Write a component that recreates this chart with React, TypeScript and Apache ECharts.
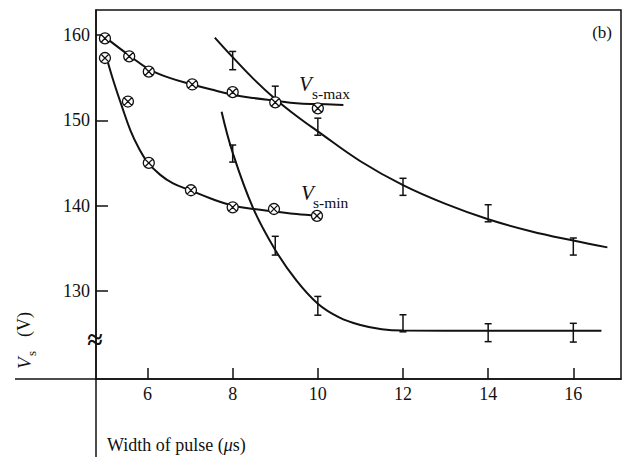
import React, { useEffect, useRef } from "react";
import * as echarts from "echarts";

// ---- data ----
const xTicks = [6, 8, 10, 12, 14, 16];
const yTicks = [130, 140, 150, 160];

const vsMaxX = [5, 5.57, 6.03, 7.05, 8, 9, 10];
const vsMaxY = [159.6, 157.5, 155.7, 154.2, 153.3, 152.1, 151.4];
const vsMinX = [5, 5.54, 6.03, 7.02, 8, 8.97, 9.98];
const vsMinY = [157.3, 152.2, 145.0, 141.8, 139.8, 139.6, 138.8];

const vsMaxFitX = [5.04, 5.57, 6.03, 6.5, 7.05, 7.5, 8, 8.5, 9, 9.5, 10, 10.6];
const vsMaxFitY = [159.6, 157.6, 156.0, 155.0, 154.2, 153.6, 153.0, 152.6, 152.3, 152.0, 151.9, 151.8];
const vsMinFitX = [5.04, 5.2, 5.4, 5.6, 5.8, 6.0, 6.3, 6.6, 7, 7.5, 8, 8.5, 9, 9.5, 9.98];
const vsMinFitY = [157.3, 154.6, 151.6, 148.8, 146.7, 145.1, 143.6, 142.6, 141.8, 140.8, 140.0, 139.6, 139.3, 139.0, 138.8];

const upperFitX = [7.58, 8, 8.5, 9, 9.5, 10, 11, 12, 13, 14, 15, 16, 16.8];
const upperFitY = [159.7, 157.4, 154.8, 152.5, 150.5, 148.7, 145.2, 142.4, 140.2, 138.4, 137.0, 135.9, 135.1];
const lowerFitX = [7.74, 8, 8.48, 9, 9.5, 10, 10.5, 11, 11.5, 12, 14, 16.66];
const lowerFitY = [151.0, 146.2, 139.7, 134.8, 131.2, 128.5, 126.9, 126.0, 125.5, 125.35, 125.33, 125.33];

const upperBarX = [8, 9, 10, 12, 14, 16];
const upperBarY = [157.0, 152.9, 149.25, 142.2, 139.1, 135.2];
const upperBarErr = [1.07, 1.1, 1.0, 1.0, 1.0, 1.0];
const lowerBarX = [8, 9, 10, 12, 14, 16];
const lowerBarY = [146.1, 135.3, 128.25, 126.2, 125.1, 125.1];
const lowerBarErr = [1.0, 1.1, 1.1, 1.0, 1.05, 1.1];

const INK = "#111";
const SERIF = "'Liberation Serif', 'DejaVu Serif', serif";
const OTIMES = "path://M10,0A10,10,0,1,1,10,20A10,10,0,1,1,10,0ZM3,3L17,17M17,3L3,17";

const zip = (a: number[], b: number[]) => a.map((v, i) => [v, b[i]]);
const zip3 = (a: number[], b: number[], c: number[]) => a.map((v, i) => [v, b[i], c[i]]);

function errRender(params: any, api: any) {
  const x = api.value(0);
  const c = api.value(1);
  const e = api.value(2);
  const t = api.coord([x, c + e]);
  const b = api.coord([x, c - e]);
  const hw = 3.5;
  const st = { stroke: INK, lineWidth: 1.5 };
  return {
    type: "group",
    children: [
      { type: "line", shape: { x1: t[0], y1: t[1], x2: b[0], y2: b[1] }, style: st },
      { type: "line", shape: { x1: t[0] - hw, y1: t[1], x2: t[0] + hw, y2: t[1] }, style: st },
      { type: "line", shape: { x1: b[0] - hw, y1: b[1], x2: b[0] + hw, y2: b[1] }, style: st },
    ],
  };
}

export default function App() {
  const ref = useRef<HTMLDivElement>(null);
  useEffect(() => {
    if (!ref.current) return;
    const chart = echarts.init(ref.current, undefined, { renderer: "svg" });
    const fitLine = (name: string, xs: number[], ys: number[]) => ({
      name,
      type: "line",
      data: zip(xs, ys),
      smooth: 0.4,
      showSymbol: false,
      symbol: "none",
      lineStyle: { color: INK, width: 2 },
      z: 2,
    });
    const pts = (name: string, xs: number[], ys: number[]) => ({
      name,
      type: "scatter",
      data: zip(xs, ys),
      symbol: OTIMES,
      symbolSize: 11,
      itemStyle: { color: "#fff", borderColor: INK, borderWidth: 1.3, opacity: 1 },
      z: 4,
    });
    chart.setOption({
      animation: false,
      backgroundColor: "#fff",
      grid: {
        left: 96,
        right: 11,
        top: 10,
        bottom: 80,
        show: true,
        borderColor: INK,
        borderWidth: 1.5,
        containLabel: false,
        outerBoundsMode: "none",
      },
      xAxis: {
        type: "value",
        min: 4.79,
        max: 17.12,
        splitLine: { show: false },
        axisLine: { show: true, onZero: false, lineStyle: { color: INK, width: 1.5 } },
        axisTick: { show: true, inside: true, length: 11, customValues: xTicks, lineStyle: { color: INK, width: 1.5 } },
        axisLabel: { customValues: xTicks, color: INK, fontFamily: SERIF, fontSize: 18, margin: 6 },
      },
      yAxis: {
        type: "value",
        min: 119.67,
        max: 162.93,
        splitLine: { show: false },
        axisLine: { show: true, onZero: false, lineStyle: { color: INK, width: 1.5 } },
        axisTick: { show: true, inside: true, length: 12, customValues: yTicks, lineStyle: { color: INK, width: 1.5 } },
        axisLabel: { customValues: yTicks, color: INK, fontFamily: SERIF, fontSize: 18, margin: 6 },
      },
      series: [
        fitLine("Vs-max fit", vsMaxFitX, vsMaxFitY),
        fitLine("Vs-min fit", vsMinFitX, vsMinFitY),
        fitLine("upper fit", upperFitX, upperFitY),
        fitLine("lower fit", lowerFitX, lowerFitY),
        {
          name: "upper bars",
          type: "custom",
          renderItem: errRender,
          data: zip3(upperBarX, upperBarY, upperBarErr),
          encode: { x: 0, y: 1 },
          z: 3,
        },
        {
          name: "lower bars",
          type: "custom",
          renderItem: errRender,
          data: zip3(lowerBarX, lowerBarY, lowerBarErr),
          encode: { x: 0, y: 1 },
          z: 3,
        },
        pts("Vs-max", vsMaxX, vsMaxY),
        pts("Vs-min", vsMinX, vsMinY),
      ],
      graphic: [
        { type: "line", shape: { x1: 15, y1: 379, x2: 96, y2: 379 }, style: { stroke: INK, lineWidth: 1.5 }, z: 10 },
        { type: "line", shape: { x1: 96, y1: 379, x2: 96, y2: 457 }, style: { stroke: INK, lineWidth: 1.5 }, z: 10 },
        {
          type: "text", x: 95, y: 339, z: 11,
          style: { text: "≈", fontSize: 28, fontWeight: "bold", fontFamily: SERIF, fill: INK, align: "center", verticalAlign: "middle" },
        },
        {
          type: "text", x: 107, y: 445, z: 11,
          style: {
            text: "{n|Width of pulse (}{m|μ}{n|s)}",
            rich: {
              n: { fontSize: 18, fontFamily: SERIF, fill: INK },
              m: { fontSize: 18, fontFamily: SERIF, fontStyle: "italic", fill: INK },
            },
            align: "left",
            verticalAlign: "middle",
          },
        },
        {
          type: "group", x: 24, y: 369, rotation: Math.PI / 2, z: 11,
          children: [
            { type: "text", x: 0, y: 0, style: { text: "V", fontSize: 19, fontStyle: "italic", fontFamily: SERIF, fill: INK, align: "left", verticalAlign: "middle" } },
            { type: "text", x: 13, y: 7, style: { text: "s", fontSize: 13, fontFamily: SERIF, fill: INK, align: "left", verticalAlign: "middle" } },
            { type: "text", x: 32, y: 0, style: { text: "(V)", fontSize: 18, fontFamily: SERIF, fill: INK, align: "left", verticalAlign: "middle" } },
          ],
        },
        {
          type: "text", x: 612, y: 32, z: 11,
          style: { text: "(b)", fontSize: 17, fontFamily: SERIF, fill: INK, align: "right", verticalAlign: "middle" },
        },
        {
          type: "text", x: 299, y: 84, z: 11,
          style: { text: "V", fontSize: 21, fontStyle: "italic", fontFamily: SERIF, fill: INK, align: "left", verticalAlign: "middle" },
        },
        {
          type: "text", x: 312, y: 93, z: 11,
          style: { text: "s-max", fontSize: 15.5, fontFamily: SERIF, fill: INK, align: "left", verticalAlign: "middle" },
        },
        {
          type: "text", x: 301, y: 193, z: 11,
          style: { text: "V", fontSize: 21, fontStyle: "italic", fontFamily: SERIF, fill: INK, align: "left", verticalAlign: "middle" },
        },
        {
          type: "text", x: 313, y: 202, z: 11,
          style: { text: "s-min", fontSize: 15.5, fontFamily: SERIF, fill: INK, align: "left", verticalAlign: "middle" },
        },
      ],
    });
    return () => chart.dispose();
  }, []);
  return (
    <div
      ref={ref}
      style={{ position: "fixed", left: 0, top: 0, width: 632, height: 459, background: "#fff" }}
    />
  );
}
